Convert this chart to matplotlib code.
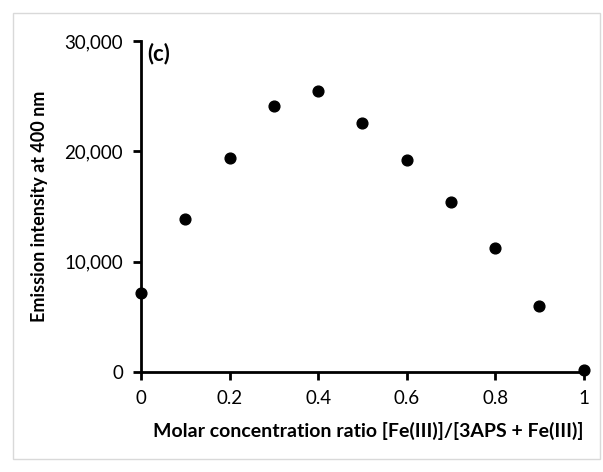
import matplotlib.pyplot as plt
from matplotlib.patches import Rectangle
from matplotlib.ticker import FuncFormatter

# job data: mole ratio vs emission intensity
ratio = [0.0, 0.1, 0.2, 0.3, 0.4, 0.5, 0.6, 0.7, 0.8, 0.9, 1.0]
intensity = [7200, 13900, 19400, 24100, 25500, 22600, 19200, 15400, 11200, 6000, 200]

plt.rcParams['font.family'] = ['Lato', 'DejaVu Sans']

fig = plt.figure(figsize=(6.03, 4.72), dpi=100)
ax = fig.add_axes([0.234, 0.212, 0.734, 0.701])

# light frame around the chart area
fig.patches.append(Rectangle((0.022, 0.028), 0.973, 0.944, transform=fig.transFigure,
                             fill=False, edgecolor='#d9d9d9', linewidth=1))

ax.scatter(ratio, intensity, s=60, color='black', zorder=3, clip_on=False)

ax.set_xlim(0, 1)
ax.set_ylim(0, 30000)
ax.set_xticks([0, 0.2, 0.4, 0.6, 0.8, 1])
ax.set_xticklabels(['0', '0.2', '0.4', '0.6', '0.8', '1'])
ax.set_yticks([0, 10000, 20000, 30000])
ax.yaxis.set_major_formatter(FuncFormatter(lambda v, p: f'{int(v):,}'))

for s in ['top', 'right']:
    ax.spines[s].set_visible(False)
for s in ['left', 'bottom']:
    ax.spines[s].set_linewidth(2)
ax.tick_params(axis='both', direction='out', length=6, width=2, labelsize=13.5, pad=7)

ax.set_xlabel('Molar concentration ratio [Fe(III)]/[3APS + Fe(III)]', fontsize=14,
              fontweight='bold', labelpad=11, loc='right')
ax.set_ylabel('Emission intensity at 400 nm', fontsize=13, fontweight='bold', labelpad=12)
ax.text(0.015, 0.995, '(c)', transform=ax.transAxes, fontsize=16, fontweight='bold',
        va='top', ha='left')

plt.savefig('out.png', dpi=100)
